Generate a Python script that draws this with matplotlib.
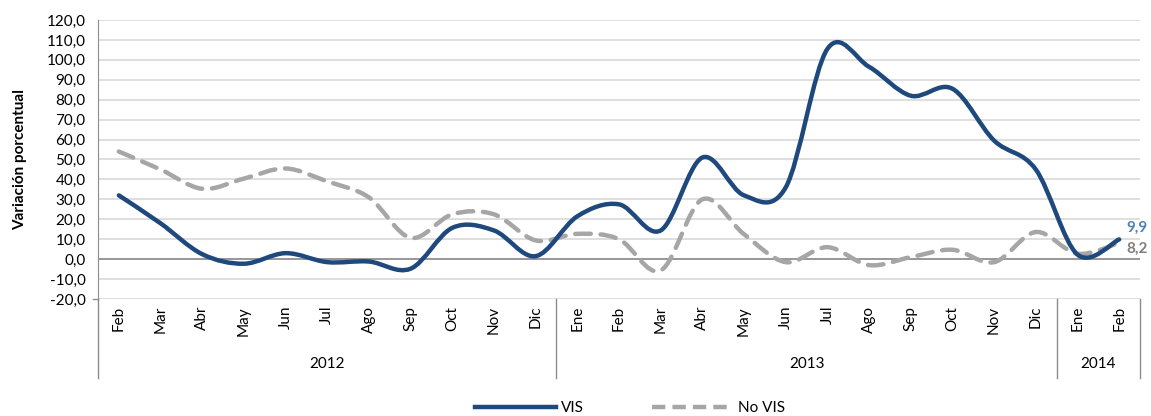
import numpy as np
import matplotlib
matplotlib.use("Agg")
import matplotlib.pyplot as plt
from matplotlib.path import Path
from matplotlib.patches import PathPatch
from matplotlib.lines import Line2D
import matplotlib.transforms as mtransforms

plt.rcParams['font.family'] = ['Lato', 'DejaVu Sans']

months = ["Feb", "Mar", "Abr", "May", "Jun", "Jul", "Ago", "Sep", "Oct", "Nov", "Dic",
          "Ene", "Feb", "Mar", "Abr", "May", "Jun", "Jul", "Ago", "Sep", "Oct", "Nov", "Dic",
          "Ene", "Feb"]
years = ["2012", "2013", "2014"]
year_counts = [11, 12, 2]

vis = [32.0, 18.0, 2.5, -2.3, 3.0, -1.5, -1.2, -4.8, 15.7, 14.4, 1.5,
       21.5, 27.5, 14.4, 51.0, 32.0, 36.0, 105.5, 96.5, 82.0, 85.5, 59.5, 45.0,
       2.3, 9.9]
novis = [54.0, 45.0, 35.3, 40.4, 45.5, 39.0, 31.0, 10.7, 22.5, 22.5, 9.4,
         12.7, 10.0, -5.7, 30.0, 12.5, -1.5, 6.0, -3.0, 1.0, 4.7, -1.5, 13.6,
         2.7, 8.2]

VIS_C = "#1F497D"
NOVIS_C = "#A6A6A6"
FS = 11


def smooth_path(ys):
    # Excel-style smoothed line: cubic Bezier with Catmull-Rom control points
    xs = np.arange(len(ys), dtype=float)
    ys = np.asarray(ys, dtype=float)
    pts = np.column_stack([xs, ys])
    verts = [pts[0]]
    codes = [Path.MOVETO]
    n = len(pts)
    for i in range(n - 1):
        p0 = pts[i - 1] if i > 0 else pts[i]
        p1 = pts[i]
        p2 = pts[i + 1]
        p3 = pts[i + 2] if i + 2 < n else pts[i + 1]
        c1 = p1 + (p2 - p0) / 6.0
        c2 = p2 - (p3 - p1) / 6.0
        verts += [c1, c2, p2]
        codes += [Path.CURVE4] * 3
    return Path(verts, codes)


fig = plt.figure(figsize=(11.51, 4.16), dpi=100)
ax = fig.add_axes([98 / 1151, 1 - 299 / 416, (1140 - 98) / 1151, (299 - 20) / 416])

ax.set_xlim(-0.5, len(months) - 0.5)
ax.set_ylim(-20, 120)
ax.set_yticks(np.arange(-20, 121, 10))
ax.set_yticklabels([f"{v:.1f}".replace(".", ",") for v in np.arange(-20, 121, 10)], fontsize=FS)
ax.yaxis.grid(True, color="#D9D9D9", linewidth=1.2)
ax.set_axisbelow(True)
ax.axhline(0, color="#8C8C8C", linewidth=1.2, zorder=1)
for s in ["top", "right", "bottom"]:
    ax.spines[s].set_visible(False)
ax.spines["left"].set_color("#8C8C8C")
ax.tick_params(axis="y", length=0, pad=9)

ax.set_xticks(np.arange(len(months)))
ax.set_xticklabels(months, rotation=90, fontsize=FS)
ax.tick_params(axis="x", length=0, pad=5)

ax.set_ylabel("Variación porcentual", fontsize=FS, fontweight="bold", labelpad=14)

# smoothed lines
p1 = PathPatch(smooth_path(novis), facecolor="none", edgecolor=NOVIS_C, linewidth=3.2,
               linestyle=(0, (3.5, 2.2)), capstyle="round", zorder=3)
p2 = PathPatch(smooth_path(vis), facecolor="none", edgecolor=VIS_C, linewidth=3.2,
               capstyle="round", zorder=4)
ax.add_patch(p1)
ax.add_patch(p2)

# end labels
n = len(months) - 1
ax.annotate(f"{vis[-1]:.1f}".replace(".", ","), (n, vis[-1]), xytext=(5, 3), textcoords="offset points",
            color="#4F81BD", fontsize=FS, fontweight="bold", va="bottom", ha="left", annotation_clip=False)
ax.annotate(f"{novis[-1]:.1f}".replace(".", ","), (n, novis[-1]), xytext=(5, 1), textcoords="offset points",
            color="#7F7F7F", fontsize=FS, fontweight="bold", va="top", ha="left", annotation_clip=False)

# hierarchical category axis
trans = mtransforms.blended_transform_factory(ax.transData, ax.transAxes)
bottom_ext = -(378 - 299) / (299 - 20)
year_y = -(364 - 299) / (299 - 20)
bounds = np.concatenate([[0], np.cumsum(year_counts)]) - 0.5
for b in bounds:
    ax.add_line(Line2D([b, b], [0, bottom_ext], transform=trans,
                       color="#8C8C8C", linewidth=1.0, clip_on=False))
for i, yl in enumerate(years):
    ax.text((bounds[i] + bounds[i + 1]) / 2, year_y, yl, transform=trans, ha="center", va="center",
            fontsize=FS)
ax.add_line(Line2D([-0.5 - 0.12, -0.5], [0, 0], transform=trans, color="#8C8C8C", linewidth=1.0, clip_on=False))

# legend
handles = [Line2D([], [], color=VIS_C, linewidth=3.2),
           Line2D([], [], color=NOVIS_C, linewidth=3.2, linestyle=(0, (3.0, 1.6)))]
fig.legend(handles, ["VIS", "No VIS"], loc="center", bbox_to_anchor=(630 / 1151, 1 - 408 / 416),
           ncol=2, frameon=False, fontsize=FS, handlelength=5.3, columnspacing=4.5, handletextpad=0.3)

fig.savefig("out.png", dpi=100)
